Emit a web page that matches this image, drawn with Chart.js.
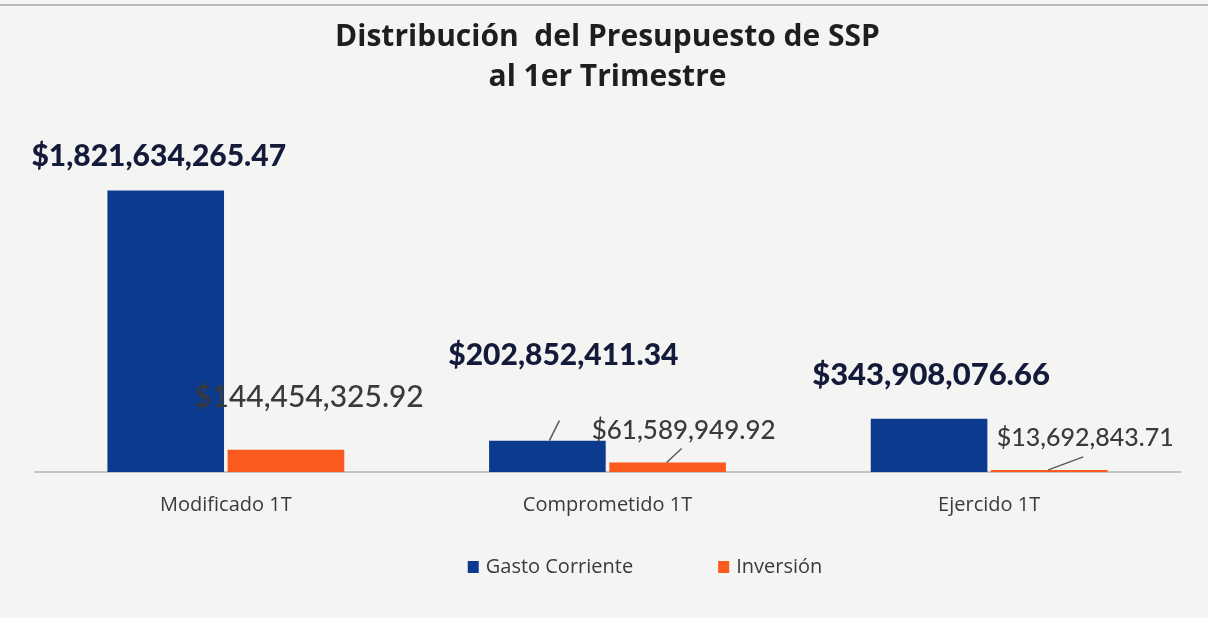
<!DOCTYPE html>
<html>
<head>
<meta charset="utf-8">
<script src="https://cdn.jsdelivr.net/npm/chart.js@4.4.1/dist/chart.umd.min.js"></script>
<style>
  html, body { margin:0; padding:0; background:#f4f4f3; }
  #wrap { position:relative; width:1208px; height:618px; }
  #wrap::before { content:""; position:absolute; left:0; right:0; top:4px; height:2px; background:#b9b9b9; }
  canvas { display:block; }
</style>
</head>
<body>
<div id="wrap"><canvas id="c" width="1208" height="618"></canvas></div>
<script>
// ---- data ----
const categories = ['Modificado 1T', 'Comprometido 1T', 'Ejercido 1T'];
const gastoCorriente = [1821634265.47, 202852411.34, 343908076.66];
const inversion = [144454325.92, 61589949.92, 13692843.71];
const seriesNames = ['Gasto Corriente', 'Inversión'];
const titleLines = ['Distribución  del Presupuesto de SSP', 'al 1er Trimestre'];

// ---- label styling (offsets relative to bar centre / top) ----
const labelStyle = [
  { // Gasto Corriente
    font: ['900 30px Lato', '900 30px Lato', '900 31px Lato'],
    color: '#141a3a',
    dx: [-7, 16, 2], dy: [-34, -85, -44],
    leaders: [null, [2, 0, 12, -20], null]
  },
  { // Inversión
    font: ['500 30px Lato', '500 26px Lato', '500 25px Lato'],
    color: '#3a3a3a',
    dx: [23, 16, 36], dy: [-52, -32, -32],
    leaders: [null, [-1, 0, 14, -14], [-1, 0, 34, -13]]
  }
];
const colors = ['#0c3a8f', '#fa5a1e'];

function fmt(v) {
  return '$' + v.toLocaleString('en-US', { minimumFractionDigits: 2, maximumFractionDigits: 2 });
}

const labelPlugin = {
  id: 'valueLabels',
  afterDatasetsDraw(chart) {
    const ctx = chart.ctx;
    chart.data.datasets.forEach((ds, di) => {
      const meta = chart.getDatasetMeta(di);
      const st = labelStyle[di];
      meta.data.forEach((bar, i) => {
        const x = bar.x, y = bar.y;
        const ld = st.leaders[i];
        if (ld) {
          ctx.save();
          ctx.strokeStyle = '#5a5a5a';
          ctx.lineWidth = 1.5;
          ctx.beginPath();
          ctx.moveTo(x + ld[0], y + ld[1]);
          ctx.lineTo(x + ld[2], y + ld[3]);
          ctx.stroke();
          ctx.restore();
        }
        ctx.save();
        ctx.font = st.font[i];
        ctx.fillStyle = st.color;
        ctx.textAlign = 'center';
        ctx.textBaseline = 'middle';
        ctx.fillText(fmt(ds.data[i]), x + st.dx[i], y + st.dy[i]);
        ctx.restore();
      });
    });
  }
};

const legendPlugin = {
  id: 'customLegend',
  afterDraw(chart) {
    const ctx = chart.ctx;
    ctx.save();
    ctx.font = '400 20px "Open Sans"';
    ctx.textBaseline = 'middle';
    const box = 11, gap = 7, itemGap = 85;
    const widths = seriesNames.map(n => ctx.measureText(n).width);
    const total = widths.reduce((a, w) => a + box + gap + w, 0) + itemGap * (seriesNames.length - 1);
    let x = chart.width / 2 + 41 - total / 2;
    const yc = 567;
    seriesNames.forEach((n, i) => {
      ctx.fillStyle = colors[i];
      ctx.fillRect(x, yc - 6, box, 12);
      ctx.fillStyle = '#3a3a3a';
      ctx.fillText(n, x + box + gap, yc);
      x += box + gap + widths[i] + itemGap;
    });
    ctx.restore();
  }
};

new Chart(document.getElementById('c'), {
  type: 'bar',
  data: {
    labels: categories,
    datasets: [
      { label: seriesNames[0], data: gastoCorriente, backgroundColor: colors[0], borderWidth: 0 },
      { label: seriesNames[1], data: inversion, backgroundColor: colors[1], borderWidth: 0 }
    ]
  },
  options: {
    responsive: false,
    animation: false,
    events: [],
    layout: { padding: { top: 0, left: 35, right: 28, bottom: 80 } },
    datasets: { bar: { categoryPercentage: 0.63, barPercentage: 0.97 } },
    plugins: {
      legend: { display: false },
      tooltip: { enabled: false },
      title: {
        display: true,
        text: titleLines,
        color: '#1e1e1e',
        font: { family: 'Open Sans', weight: '700', size: 30, lineHeight: 1.35 },
        padding: { top: 17, bottom: 65 }
      }
    },
    scales: {
      x: {
        grid: { display: false, drawTicks: false },
        border: { display: true, color: '#c4c4c4', width: 2 },
        ticks: { color: '#3a3a3a', font: { family: 'Open Sans', size: 20 }, padding: 21 }
      },
      y: {
        display: false,
        min: 0,
        max: 2000000000
      }
    }
  },
  plugins: [labelPlugin, legendPlugin]
});
</script>
</body>
</html>
